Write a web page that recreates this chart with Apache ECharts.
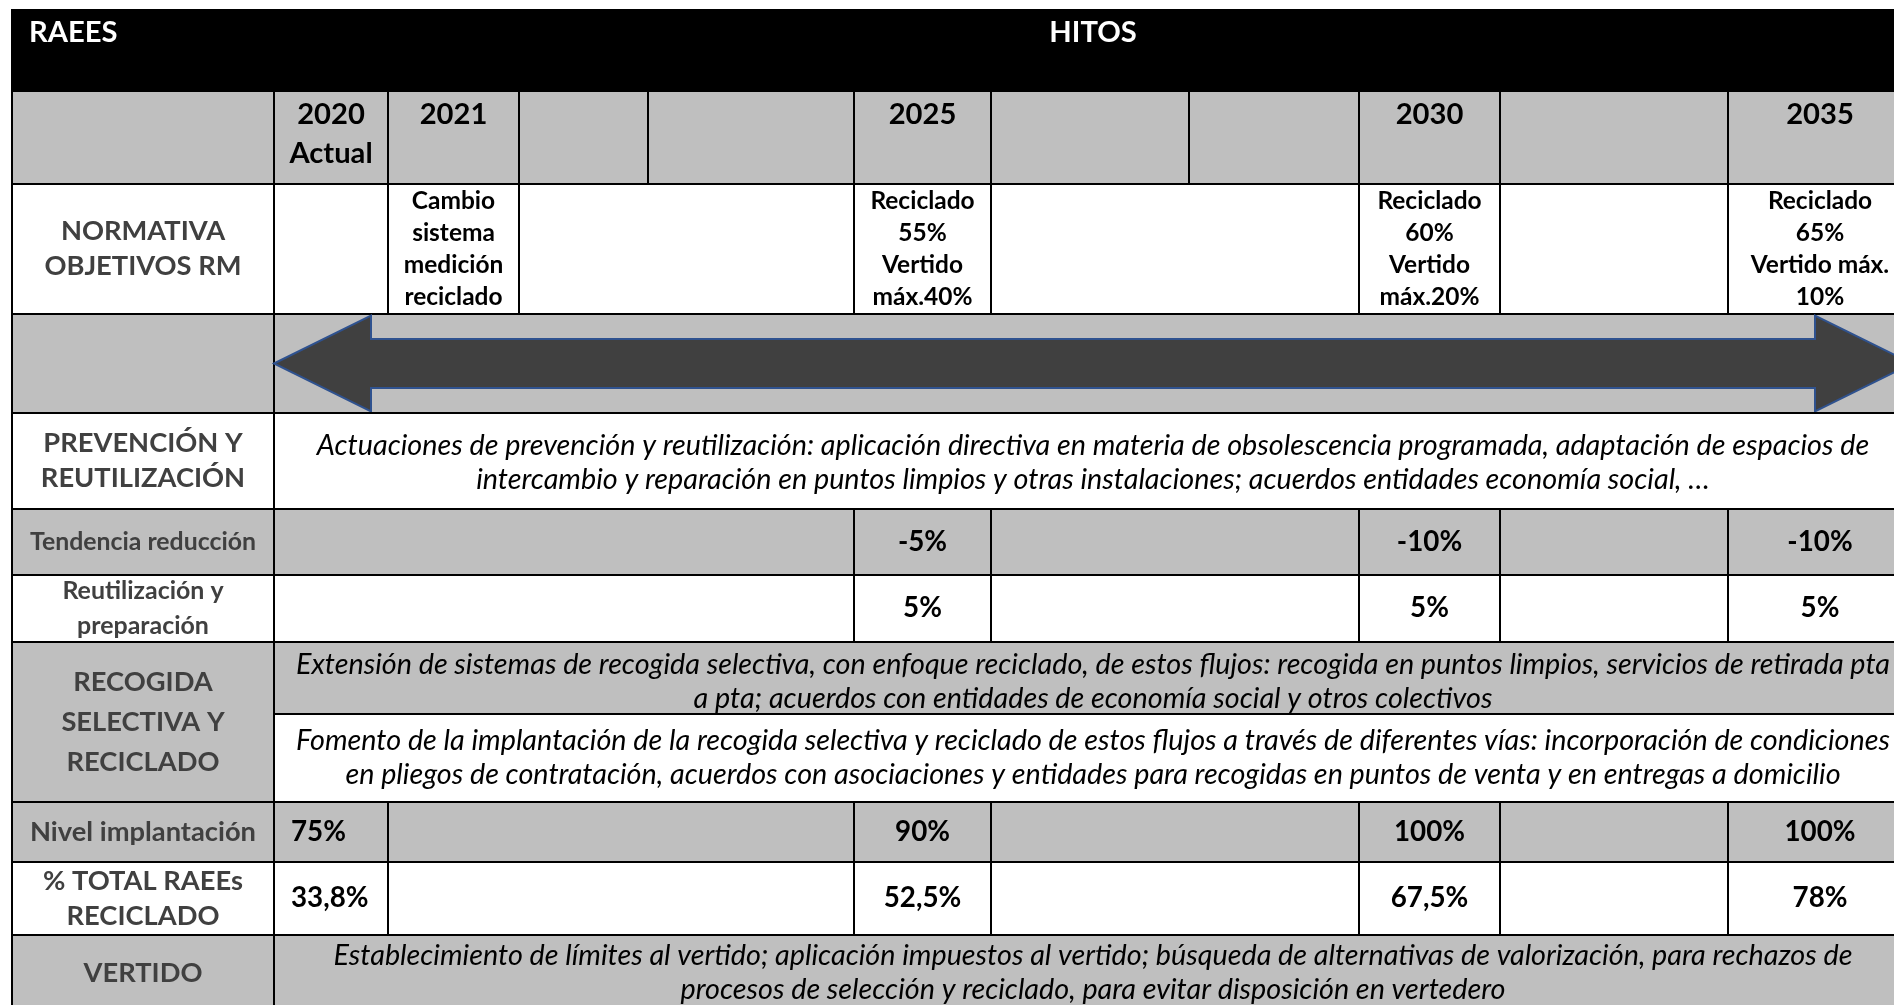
<!DOCTYPE html>
<html>
<head>
<meta charset="utf-8">
<script src="https://cdn.jsdelivr.net/npm/echarts@6/dist/echarts.min.js"></script>
<style>
  html, body { margin: 0; padding: 0; background: #ffffff; }
  #chart { width: 1894px; height: 1005px; }
</style>
</head>
<body>
<div id="chart"></div>
<script>
// ---------------- DATA ----------------
const headerLeft = 'RAEES';
const headerMain = 'HITOS';
// year header for the 10 timeline columns
const years = ['2020\nActual', '2021', '', '', '2025', '', '', '2030', '', '2035'];
// row labels (first column)
const rowLabels = [
  'NORMATIVA\nOBJETIVOS RM',
  '',
  'PREVENCIÓN Y\nREUTILIZACIÓN',
  'Tendencia reducción',
  'Reutilización y\npreparación',
  'RECOGIDA\nSELECTIVA Y\nRECICLADO',
  'Nivel implantación',
  '% TOTAL RAEEs\nRECICLADO',
  'VERTIDO'
];
// NORMATIVA row: 2020, 2021, 2025, 2030, 2035
const normativa = ['', 'Cambio\nsistema\nmedición\nreciclado', 'Reciclado\n55%\nVertido\nmáx.40%', 'Reciclado\n60%\nVertido\nmáx.20%', 'Reciclado\n65%\nVertido máx.\n10%'];
// milestone rows: 2020, 2025, 2030, 2035 (null = no own cell)
const tendencia = [null, '-5%', '-10%', '-10%'];
const reutilizacion = [null, '5%', '5%', '5%'];
const nivelImplantacion = ['75%', '90%', '100%', '100%'];
const totalReciclado = ['33,8%', '52,5%', '67,5%', '78%'];
// descriptive texts
const txtPrevencion = 'Actuaciones de prevención y reutilización: aplicación directiva en materia de obsolescencia programada, adaptación de espacios de\nintercambio y reparación en puntos limpios y otras instalaciones; acuerdos entidades economía social, …';
const txtRecogida1 = 'Extensión de sistemas de recogida selectiva, con enfoque reciclado, de estos flujos: recogida en puntos limpios, servicios de retirada pta\na pta; acuerdos con entidades de economía social y otros colectivos';
const txtRecogida2 = 'Fomento de la implantación de la recogida selectiva y reciclado de estos flujos a través de diferentes vías: incorporación de condiciones\nen pliegos de contratación, acuerdos con asociaciones y entidades para recogidas en puntos de venta y en entregas a domicilio';
const txtVertido = 'Establecimiento de límites al vertido; aplicación impuestos al vertido; búsqueda de alternativas de valorización, para rechazos de\nprocesos de selección y reciclado, para evitar disposición en vertedero';

// ---------------- LAYOUT ----------------
// table continues past the right/bottom edge of the picture
const colEdges = [0, 262, 376, 507, 636, 842, 979, 1177, 1347, 1488, 1716, 1900];
const rowEdges = [0, 81, 174, 304, 403, 499, 565, 632, 704, 792, 852, 925, 1005];
const VIEW_X = 1882, VIEW_Y = 995; // visible part of the axes
const GRAY = '#BFBFBF', WHITE = '#FFFFFF', BLACK = '#000000', LABEL = '#404040';
const FONT = 'Lato';

const cv = document.createElement('canvas').getContext('2d');
function tw(t, f) { cv.font = f; return cv.measureText(t).width; }
// calibrate Lato sizes against reference widths
const boldK = (226 / tw('Nivel implantación', 'bold 100px ' + FONT)) * 100 / 29;
const italicSize = (1553 / tw(txtPrevencion.split('\n')[0], 'italic 100px ' + FONT)) * 100;
function bold(sz) { return 'bold ' + (boldK * sz).toFixed(2) + 'px ' + FONT; }

const cells = [];
function cell(c0, c1, r0, r1, o) {
  cells.push(Object.assign({ x0: colEdges[c0], x1: colEdges[c1], y0: rowEdges[r0], y1: rowEdges[r1] }, o));
}

// header
cell(0, 1, 0, 1, { fill: BLACK, text: headerLeft, color: '#fff', font: bold(31), align: 'left', vpos: 'top', padX: 17, padY: 23 });
cell(1, 11, 0, 1, { fill: BLACK, text: headerMain, color: '#fff', font: bold(31), vpos: 'top', padY: 23 });
// years
cell(0, 1, 1, 2, { fill: GRAY });
years.forEach((y, i) => cell(i + 1, i + 2, 1, 2, { fill: GRAY, text: y, color: BLACK, font: bold(31), vpos: 'topBlock', padY: 4, lh: 39 }));
// normativa
cell(0, 1, 2, 3, { fill: WHITE, text: rowLabels[0], color: LABEL, font: bold(29), lh: 35 });
const normCols = [[1, 2], [2, 3], [5, 6], [8, 9], [10, 11]];
const normBlank = [[3, 5], [6, 8], [9, 10]];
normCols.forEach((c, i) => cell(c[0], c[1], 2, 3, { fill: WHITE, text: normativa[i], color: BLACK, font: bold(26), lh: 32 }));
normBlank.forEach(c => cell(c[0], c[1], 2, 3, { fill: WHITE }));
// arrow row
cell(0, 1, 3, 4, { fill: GRAY, text: rowLabels[1] });
cell(1, 11, 3, 4, { fill: GRAY, arrow: true });
// prevencion
cell(0, 1, 4, 5, { fill: WHITE, text: rowLabels[2], color: LABEL, font: bold(29), lh: 35 });
cell(1, 11, 4, 5, { fill: WHITE, text: txtPrevencion, italic: true, dy: 2 });

// milestone rows
function milestoneRow(r, label, labelSize, values, fill) {
  cell(0, 1, r, r + 1, { fill, text: label, color: LABEL, font: bold(labelSize), lh: 35 });
  if (values[0] !== null) {
    cell(1, 2, r, r + 1, { fill, text: values[0], color: BLACK, font: bold(29.5), align: 'left', padX: 17 });
    cell(2, 5, r, r + 1, { fill });
  } else {
    cell(1, 5, r, r + 1, { fill });
  }
  cell(5, 6, r, r + 1, { fill, text: values[1], color: BLACK, font: bold(29.5) });
  cell(6, 8, r, r + 1, { fill });
  cell(8, 9, r, r + 1, { fill, text: values[2], color: BLACK, font: bold(29.5) });
  cell(9, 10, r, r + 1, { fill });
  cell(10, 11, r, r + 1, { fill, text: values[3], color: BLACK, font: bold(29.5) });
}
milestoneRow(5, rowLabels[3], 26.4, tendencia, GRAY);
milestoneRow(6, rowLabels[4], 26.5, reutilizacion, WHITE);
// recogida
cell(0, 1, 7, 9, { fill: GRAY, text: rowLabels[5], color: LABEL, font: bold(29), lh: 40 });
cell(1, 11, 7, 8, { fill: GRAY, text: txtRecogida1, italic: true, dy: 4 });
cell(1, 11, 8, 9, { fill: WHITE, text: txtRecogida2, italic: true });
milestoneRow(9, rowLabels[6], 29, nivelImplantacion, GRAY);
milestoneRow(10, rowLabels[7], 29, totalReciclado, WHITE);
// vertido
cell(0, 1, 11, 12, { fill: GRAY, text: rowLabels[8], color: LABEL, font: bold(29), dy: -2 });
cell(1, 11, 11, 12, { fill: GRAY, text: txtVertido, italic: true, dy: -2 });

// arrow geometry (axis units)
const ARROW_HEAD = 97, ARROW_SHAFT_HALF = 24.5, ARROW_HEAD_HALF = 48;

function renderItem(params, api) {
  const c = cells[api.value(4)];
  const p0 = api.coord([api.value(0), api.value(2)]);
  const p1 = api.coord([api.value(1), api.value(3)]);
  const x = p0[0], y = p0[1], w = p1[0] - p0[0], h = p1[1] - p0[1];
  const children = [{
    type: 'rect', shape: { x, y, width: w, height: h },
    style: { fill: c.fill, stroke: '#000', lineWidth: 2 }
  }];
  if (c.arrow) {
    const cy = (c.y0 + c.y1) / 2;
    const pts = [
      [c.x0, cy], [c.x0 + ARROW_HEAD, cy - ARROW_HEAD_HALF], [c.x0 + ARROW_HEAD, cy - ARROW_SHAFT_HALF],
      [c.x1 - ARROW_HEAD, cy - ARROW_SHAFT_HALF], [c.x1 - ARROW_HEAD, cy - ARROW_HEAD_HALF], [c.x1, cy],
      [c.x1 - ARROW_HEAD, cy + ARROW_HEAD_HALF], [c.x1 - ARROW_HEAD, cy + ARROW_SHAFT_HALF],
      [c.x0 + ARROW_HEAD, cy + ARROW_SHAFT_HALF], [c.x0 + ARROW_HEAD, cy + ARROW_HEAD_HALF]
    ].map(p => api.coord(p));
    children.push({ type: 'polygon', shape: { points: pts }, style: { fill: '#404040', stroke: '#2F528F', lineWidth: 2 } });
  }
  if (c.text) {
    const align = c.align || 'center';
    let tx = align === 'left' ? x + (c.padX || 0) : x + w / 2;
    let ty, va;
    if (c.vpos === 'top') { ty = y + c.padY; va = 'middle'; }
    else if (c.vpos === 'topBlock') { ty = y + c.padY; va = 'top'; }
    else { ty = y + h / 2 + (c.dy || 0); va = 'middle'; }
    const font = c.italic ? 'italic ' + italicSize.toFixed(2) + 'px ' + FONT : c.font;
    children.push({
      type: 'text',
      style: {
        text: c.text, x: tx, y: ty, align: align, verticalAlign: va,
        font: font, fill: c.italic ? '#000' : c.color,
        lineHeight: c.italic ? 34 : (c.lh || 36)
      }
    });
  }
  return { type: 'group', children };
}

const chart = echarts.init(document.getElementById('chart'), null, { renderer: 'canvas' });
chart.setOption({
  animation: false,
  grid: { left: 12, top: 10, right: 0, bottom: 0 },
  xAxis: { type: 'value', min: 0, max: VIEW_X, show: false },
  yAxis: { type: 'value', min: 0, max: VIEW_Y, inverse: true, show: false },
  series: [{
    type: 'custom',
    coordinateSystem: 'cartesian2d',
    silent: true,
    clip: false,
    encode: { x: [0, 1], y: [2, 3] },
    data: cells.map((c, i) => [c.x0, c.x1, c.y0, c.y1, i]),
    renderItem
  }]
});
</script>
</body>
</html>
